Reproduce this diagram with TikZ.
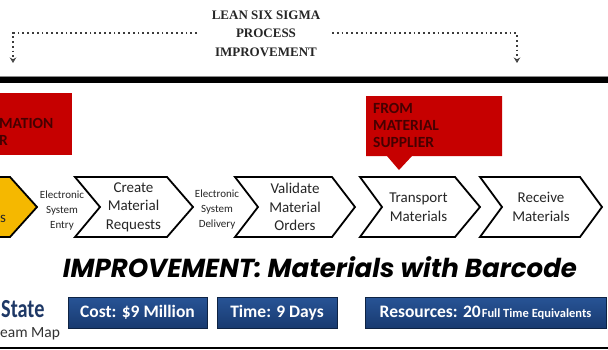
\documentclass[tikz,border=0pt]{standalone}
\usepackage{fontspec}
\usepackage{graphicx}
\setmainfont{Carlito}
\newfontfamily\titlefont{Liberation Serif}
\newfontfamily\gothfont{Poppins}
\usetikzlibrary{arrows.meta}
\definecolor{boxred}{RGB}{198,0,0}
\definecolor{redtext}{RGB}{70,0,0}
\definecolor{chevyellow}{RGB}{245,184,0}
\definecolor{navytop}{RGB}{40,84,150}
\definecolor{navybot}{RGB}{24,58,112}
\definecolor{navytext}{RGB}{30,56,102}
\definecolor{dotgray}{RGB}{60,60,60}
\tikzset{
  dotline/.style={draw=dotgray, line width=2.2pt, dash pattern=on 1.8pt off 3pt,
    -{Stealth[length=5.5pt,width=6.5pt,open,line width=1.2pt]}},
  chevline/.style={draw=black, line width=1.8pt, line join=miter, fill=white},
  chevtext/.style={inner sep=0pt, align=center, text=black!85, font=\fontsize{15}{18.5}\selectfont},
  smalltext/.style={inner sep=0pt, align=center, text=black!85, font=\fontsize{11}{15}\selectfont},
  redlabel/.style={inner sep=0pt, align=left, text=redtext, font=\bfseries\fontsize{15.5}{17}\selectfont},
  navybox/.style={draw=navybot!60!black, line width=0.8pt, top color=navytop, bottom color=navybot,
    minimum height=31pt, inner sep=0pt, text=white, font=\bfseries\fontsize{17.5}{20}\selectfont},
  titletext/.style={inner sep=0pt, align=center, text=black!85, font=\titlefont\bfseries\fontsize{13}{18.5}\selectfont}
}
\newcommand\mkchev[6]{%
  \draw[chevline] (#2,177) -- (#4,177) -- (#5,207) -- (#4,237) -- (#2,237) -- (#3,207) -- cycle;
  \node[chevtext] (#1) at ({(#3+#4)/2},207) {#6};}
\begin{document}
\begin{tikzpicture}[x=1pt,y=-1pt]
\useasboundingbox (0,0) rectangle (608,349);
\fill[white] (0,0) rectangle (608,349);

% title
\node[titletext] (title) at (266,33.5) {LEAN SIX SIGMA\\PROCESS\\IMPROVEMENT};

% dotted arrows
\coordinate (la) at (197,33);
\coordinate (lb) at (13,33);
\coordinate (lc) at (13,63);
\coordinate (ra) at (332,33);
\coordinate (rb) at (517,33);
\coordinate (rc) at (517,63);
\draw[dotline] (la) -- (lb) -- (lc);
\draw[dotline] (ra) -- (rb) -- (rc);

% top rule
\draw[black!45, line width=1pt] (0,76) -- (608,76);
\draw[black, line width=6pt] (0,80) -- (608,80);

% red boxes
\fill[boxred] (0,93) rectangle (72,155);
\node[redlabel, anchor=north west] (lmation) at (-1,118) {MATION};
\node[redlabel, anchor=north east] (lr) at (8,135) {R};

\fill[boxred] (366,96) -- (502,96) -- (502,156) -- (412,156) -- (399,170) -- (387,156) -- (366,156) -- cycle;
\node[redlabel, anchor=north west] (from) at (373,103) {FROM\\MATERIAL\\SUPPLIER};

% chevrons
\draw[chevline, fill=chevyellow] (-5,177) -- (10,177) -- (37,207) -- (10,237) -- (-5,237);
\node[chevtext] (ys) at (3,219) {s};
\node[smalltext] (ese) at (62,211) {Electronic\\System\\Entry};
\mkchev{create}{75}{100}{167}{193}{Create\\Material\\Requests}
\node[smalltext] (esd) at (217,210) {Electronic\\System\\Delivery};
\mkchev{validate}{235}{258}{332}{355}{Validate\\Material\\Orders}
\mkchev{transport}{360}{382}{455}{480}{Transport\\Materials}
\mkchev{receive}{480}{502}{580}{602}{Receive\\Materials}

% improvement text
\node[inner sep=0pt, anchor=base] (impr) at (320,277)
  {\resizebox{514pt}{!}{\gothfont\bfseries\itshape\fontsize{28}{30}\selectfont IMPROVEMENT: Materials with Barcode}};

% bottom left
\node[inner sep=0pt, anchor=base west, text=navytext] (state) at (1,317)
  {\scalebox{0.78}[1]{\bfseries\fontsize{26}{28}\selectfont State}};
\node[inner sep=0pt, anchor=base west, text=black!80] (vsm) at (0,337)
  {\fontsize{15.5}{17}\selectfont eam Map};

% navy boxes
\node[navybox, minimum width=139pt] (cost) at (137.5,312.5) {Cost: \$9 Million};
\node[navybox, minimum width=120pt] (time) at (277,312.5) {Time: 9 Days};
\node[navybox, minimum width=241pt] (res) at (485.5,312.5)
  {Resources: 20\kern1pt{\fontsize{12.5}{14}\selectfont Full Time Equivalents}};

% bottom rule
\draw[black, line width=2.5pt] (0,348) -- (608,348);
\end{tikzpicture}
\end{document}
